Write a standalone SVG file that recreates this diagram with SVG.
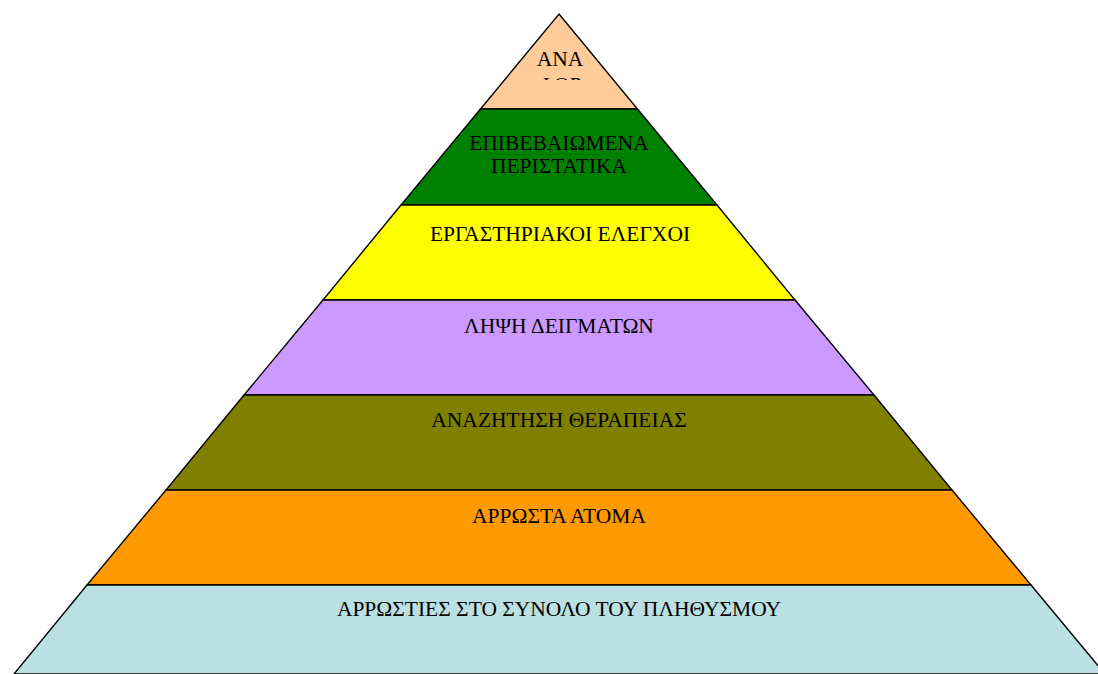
<svg xmlns="http://www.w3.org/2000/svg" width="1098" height="674" viewBox="0 0 1098 674">
  <style>
    .tier { stroke: #000; stroke-width: 1.4; stroke-linejoin: miter; }
    .lbl { font-family: "Liberation Serif", "Times New Roman", serif; font-size: 21.5px; fill: #000; text-anchor: middle; }
  </style>
  <defs>
    <clipPath id="apexClip">
      <rect x="470" y="14" width="180" height="66"/>
    </clipPath>
  </defs>
  <rect width="1098" height="674" fill="#fff"/>

  <g id="tier-apex">
    <polygon class="tier" fill="#FFCC99" points="559,14 637.5,109 480.5,109"/>
    <g clip-path="url(#apexClip)">
      <text class="lbl" x="560" y="66">ΑΝΑ</text>
      <text class="lbl" x="560" y="92">ΦΟΡ</text>
    </g>
  </g>

  <g id="tier-confirmed">
    <polygon class="tier" fill="#008000" points="480.5,109 637.5,109 717,205 401,205"/>
    <text class="lbl" x="559" y="150">ΕΠΙΒΕΒΑΙΩΜΕΝΑ</text>
    <text class="lbl" x="559" y="173">ΠΕΡΙΣΤΑΤΙΚΑ</text>
  </g>

  <g id="tier-lab">
    <polygon class="tier" fill="#FFFF00" points="401,205 717,205 795,300 323,300"/>
    <text class="lbl" x="560" y="241">ΕΡΓΑΣΤΗΡΙΑΚΟΙ ΕΛΕΓΧΟΙ</text>
  </g>

  <g id="tier-samples">
    <polygon class="tier" fill="#CC99FF" points="323,300 795,300 874,395 244,395"/>
    <text class="lbl" x="559" y="333">ΛΗΨΗ ΔΕΙΓΜΑΤΩΝ</text>
  </g>

  <g id="tier-treatment">
    <polygon class="tier" fill="#808000" points="244,395 874,395 952,490 166,490"/>
    <text class="lbl" x="559" y="427">ΑΝΑΖΗΤΗΣΗ ΘΕΡΑΠΕΙΑΣ</text>
  </g>

  <g id="tier-sick">
    <polygon class="tier" fill="#FF9900" points="166,490 952,490 1031,585 87,585"/>
    <text class="lbl" x="559" y="523">ΑΡΡΩΣΤΑ ΑΤΟΜΑ</text>
  </g>

  <g id="tier-population">
    <polygon class="tier" fill="#BBE0E3" points="87,585 1031,585 1105,674 14,674"/>
    <text class="lbl" x="559" y="616">ΑΡΡΩΣΤΙΕΣ ΣΤΟ ΣΥΝΟΛΟ ΤΟΥ ΠΛΗΘΥΣΜΟΥ</text>
  </g>
</svg>
